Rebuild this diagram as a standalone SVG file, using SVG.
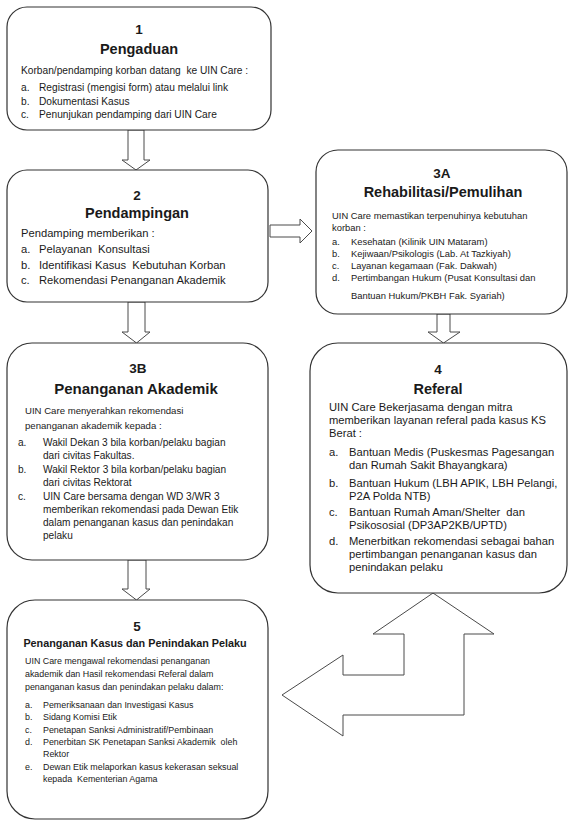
<svg xmlns="http://www.w3.org/2000/svg" width="569" height="823" viewBox="0 0 569 823">
<style>
.box{fill:#fff;stroke:#333;stroke-width:1.2}
.arr{fill:#fff;stroke:#4a4a4a;stroke-width:1}
text{font-family:"Liberation Sans",Arial,sans-serif;fill:#1a1a1a;white-space:pre}
.num{font-weight:bold;text-anchor:middle;font-size:13.5px}
.ttl{font-weight:bold;text-anchor:middle;font-size:14.5px}
.t1{font-size:10.2px}
.t2{font-size:11.2px}
.t3a{font-size:9.4px}
.t3b{font-size:9.6px}
.t3bl{font-size:10.1px}
.t4{font-size:11.2px}
.t5{font-size:8.9px}
</style>
<rect x="0" y="0" width="569" height="823" fill="#fff"/>
<g id="connectors">
<polygon class="arr" points="128,130 144,130 144,160 150,160 136,170 122,160 128,160"/>
<polygon class="arr" points="128,302 145,302 145,332 150,332 136.5,343 122,332 128,332"/>
<polygon class="arr" points="128,560 146,560 146,589 150,589 136.5,600 122,589 128,589"/>
<polygon class="arr" points="270,225 300,225 300,219 312,231 300,243 300,237 270,237"/>
<polygon class="arr" points="437,314 450,314 450,332 460,332 443.5,343 428,332 437,332"/>
<polygon class="arr" points="433,593 494,634 464,634 464,715 343,715 343,736 282,695 343,655 343,675 404,675 404,634 373,634"/>
</g>
<g id="node-1">
<rect class="box" x="7" y="7" width="264" height="123" rx="20"/>
<text class="num" x="139" y="34">1</text>
<text class="ttl" x="139" y="54">Pengaduan</text>
<text class="t1" x="21" y="74">Korban/pendamping korban datang  ke UIN Care :</text>
<text class="t1" x="21" y="91">a.</text><text class="t1" x="39" y="91">Registrasi (mengisi form) atau melalui link</text>
<text class="t1" x="21" y="104.5">b.</text><text class="t1" x="39" y="104.5">Dokumentasi Kasus</text>
<text class="t1" x="21" y="118">c.</text><text class="t1" x="39" y="118">Penunjukan pendamping dari UIN Care</text>
</g>
<g id="node-2">
<rect class="box" x="7" y="170" width="261" height="132" rx="20"/>
<text class="num" x="137" y="200">2</text>
<text class="ttl" x="137" y="218">Pendampingan</text>
<text class="t2" x="21" y="237">Pendamping memberikan :</text>
<text class="t2" x="21" y="253">a.</text><text class="t2" x="39" y="253">Pelayanan  Konsultasi</text>
<text class="t2" x="21" y="268.5">b.</text><text class="t2" x="39" y="268.5">Identifikasi Kasus  Kebutuhan Korban</text>
<text class="t2" x="21" y="284">c.</text><text class="t2" x="39" y="284">Rekomendasi Penanganan Akademik</text>
</g>
<g id="node-3a">
<rect class="box" x="316" y="150" width="251" height="164" rx="22"/>
<text class="num" x="442" y="178">3A</text>
<text class="ttl" x="443" y="197">Rehabilitasi/Pemulihan</text>
<text class="t3a" x="332" y="219">UIN Care memastikan terpenuhinya kebutuhan</text>
<text class="t3a" x="332" y="231">korban :</text>
<text class="t3a" x="332" y="245">a.</text><text class="t3a" x="351" y="245">Kesehatan (Kilinik UIN Mataram)</text>
<text class="t3a" x="332" y="257">b.</text><text class="t3a" x="351" y="257">Kejiwaan/Psikologis (Lab. At Tazkiyah)</text>
<text class="t3a" x="332" y="269">c.</text><text class="t3a" x="351" y="269">Layanan kegamaan (Fak. Dakwah)</text>
<text class="t3a" x="332" y="281">d.</text><text class="t3a" x="351" y="281">Pertimbangan Hukum (Pusat Konsultasi dan</text>
<text class="t3a" x="351" y="299">Bantuan Hukum/PKBH Fak. Syariah)</text>
</g>
<g id="node-3b">
<rect class="box" x="7" y="343" width="261" height="217" rx="25"/>
<text class="num" x="138" y="373">3B</text>
<text class="ttl" x="136" y="394" style="font-size:15px">Penanganan Akademik</text>
<text class="t3b" x="25" y="414">UIN Care menyerahkan rekomendasi</text>
<text class="t3b" x="25" y="429">penanganan akademik kepada :</text>
<text class="t3bl" x="18" y="446">a.</text><text class="t3bl" x="43" y="446">Wakil Dekan 3 bila korban/pelaku bagian</text>
<text class="t3bl" x="43" y="459">dari civitas Fakultas.</text>
<text class="t3bl" x="18" y="473">b.</text><text class="t3bl" x="43" y="473">Wakil Rektor 3 bila korban/pelaku bagian</text>
<text class="t3bl" x="43" y="486">dari civitas Rektorat</text>
<text class="t3bl" x="18" y="500">c.</text><text class="t3bl" x="43" y="500">UIN Care bersama dengan WD 3/WR 3</text>
<text class="t3bl" x="43" y="513">memberikan rekomendasi pada Dewan Etik</text>
<text class="t3bl" x="43" y="526">dalam penanganan kasus dan penindakan</text>
<text class="t3bl" x="43" y="539">pelaku</text>
</g>
<g id="node-4">
<rect class="box" x="310" y="343" width="257" height="250" rx="28"/>
<text class="num" x="438" y="374">4</text>
<text class="ttl" x="438" y="394">Referal</text>
<text class="t4" x="329" y="411">UIN Care Bekerjasama dengan mitra</text>
<text class="t4" x="329" y="424">memberikan layanan referal pada kasus KS</text>
<text class="t4" x="329" y="437">Berat :</text>
<text class="t4" x="329" y="456">a.</text><text class="t4" x="349" y="456">Bantuan Medis (Puskesmas Pagesangan</text>
<text class="t4" x="349" y="469">dan Rumah Sakit Bhayangkara)</text>
<text class="t4" x="329" y="487">b.</text><text class="t4" x="349" y="487">Bantuan Hukum (LBH APIK, LBH Pelangi,</text>
<text class="t4" x="349" y="500">P2A Polda NTB)</text>
<text class="t4" x="329" y="516">c.</text><text class="t4" x="349" y="516">Bantuan Rumah Aman/Shelter  dan</text>
<text class="t4" x="349" y="529">Psikososial (DP3AP2KB/UPTD)</text>
<text class="t4" x="329" y="545">d.</text><text class="t4" x="349" y="545">Menerbitkan rekomendasi sebagai bahan</text>
<text class="t4" x="349" y="558">pertimbangan penanganan kasus dan</text>
<text class="t4" x="349" y="571">penindakan pelaku</text>
</g>
<g id="node-5">
<rect class="box" x="7" y="600" width="261" height="219" rx="28"/>
<text class="num" x="137" y="631">5</text>
<text class="ttl" x="135" y="647" style="font-size:10.8px">Penanganan Kasus dan Penindakan Pelaku</text>
<text class="t5" x="25" y="664">UIN Care mengawal rekomendasi penanganan</text>
<text class="t5" x="25" y="677">akademik dan Hasil rekomendasi Referal dalam</text>
<text class="t5" x="25" y="690">penanganan kasus dan penindakan pelaku dalam:</text>
<text class="t5" x="25" y="708">a.</text><text class="t5" x="43" y="708">Pemeriksanaan dan Investigasi Kasus</text>
<text class="t5" x="25" y="720">b.</text><text class="t5" x="43" y="720">Sidang Komisi Etik</text>
<text class="t5" x="25" y="733">c.</text><text class="t5" x="43" y="733">Penetapan Sanksi Administratif/Pembinaan</text>
<text class="t5" x="25" y="745">d.</text><text class="t5" x="43" y="745">Penerbitan SK Penetapan Sanksi Akademik  oleh</text>
<text class="t5" x="43" y="757">Rektor</text>
<text class="t5" x="25" y="770">e.</text><text class="t5" x="43" y="770">Dewan Etik melaporkan kasus kekerasan seksual</text>
<text class="t5" x="43" y="782">kepada  Kementerian Agama</text>
</g>
</svg>
